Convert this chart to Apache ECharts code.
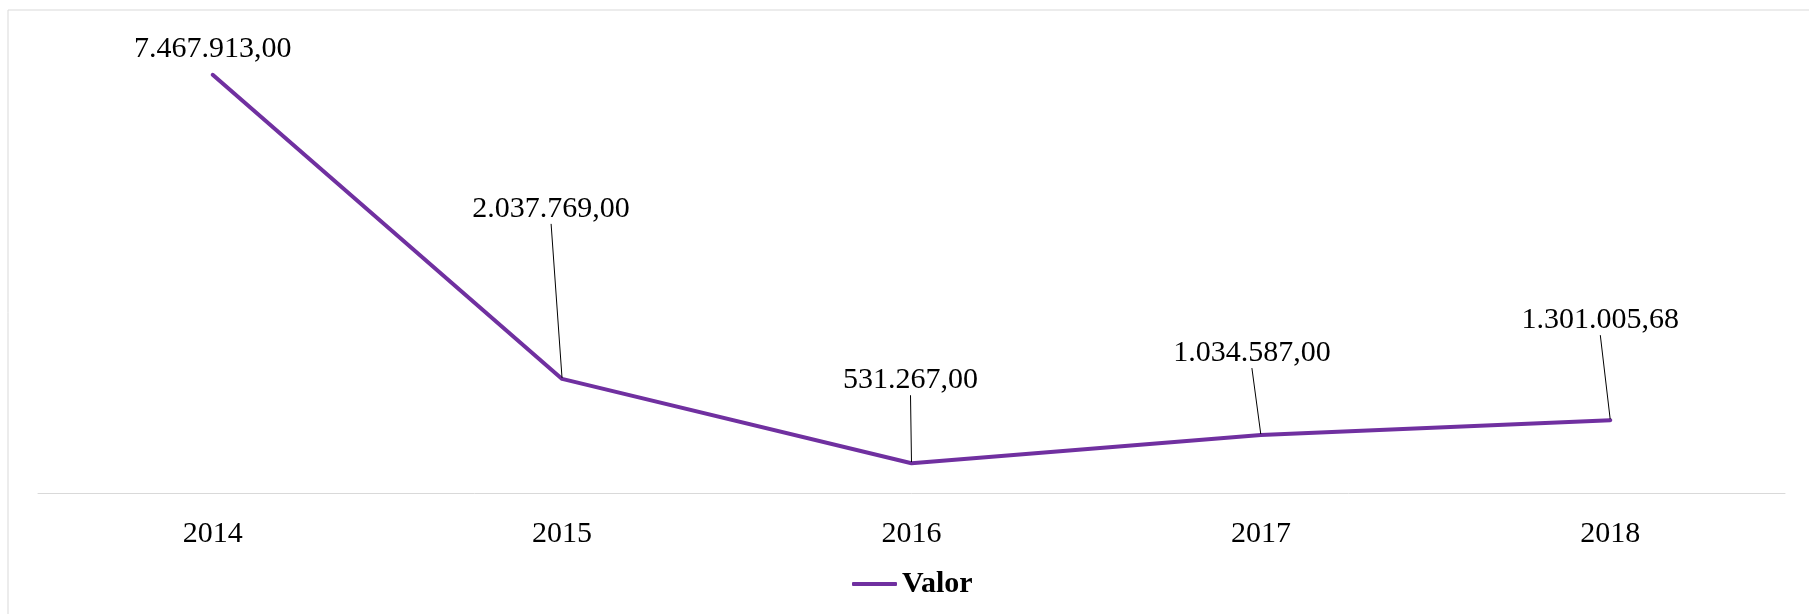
<!DOCTYPE html>
<html>
<head>
<meta charset="utf-8">
<script src="https://cdn.jsdelivr.net/npm/echarts@6/dist/echarts.min.js"></script>
<style>
  html, body { margin: 0; padding: 0; background: #fff; }
  #lineGraph { width: 1809px; height: 614px; }
</style>
</head>
<body>
<div id="lineGraph"></div>
<script>
// dados do gráfico
var anos = ['2014', '2015', '2016', '2017', '2018'];
var valores = [7467913, 2037769, 531267, 1034587, 1301005.68];
var nomeSerie = 'Valor';

// deslocamento dos rótulos (em px) para cada ponto
var rotuloDx = [0, -11, -1, -9, -10];
var rotuloDy = [-5, -149, -62, -61, -79];

function formatoBR(v) {
	var partes = v.toFixed(2).split('.');
	var inteiro = partes[0].replace(/\B(?=(\d{3})+(?!\d))/g, '.');
	return inteiro + ',' + partes[1];
}

var serieDados = [];
for (var i = 0; i < valores.length; i++) {
	if (i == 0) {
		serieDados.push({ value: valores[i], labelLine: { show: false } });
	} else {
		serieDados.push(valores[i]);
	}
}

var fonte = 'Liberation Serif, Times New Roman, serif';
var myChart = echarts.init(document.getElementById('lineGraph'));
var option = {
	animation: false,
	backgroundColor: '#fff',
	graphic: [{
		type: 'rect',
		silent: true,
		shape: { x: 8, y: 10, width: 2000, height: 800 },
		style: { fill: 'none', stroke: '#d9d9d9', lineWidth: 1 }
	}],
	grid: {
		left: 38,
		right: 24,
		top: 45,
		bottom: 121,
		containLabel: false
	},
	legend: {
		data: [nomeSerie],
		left: 847,
		top: 564,
		icon: 'roundRect',
		itemWidth: 45,
		itemHeight: 4,
		textStyle: {
			fontFamily: fonte,
			fontSize: 30,
			fontWeight: 'bold',
			color: '#000'
		}
	},
	xAxis: {
		type: 'category',
		boundaryGap: true,
		data: anos,
		axisLine: { show: true, lineStyle: { color: '#d9d9d9', width: 1 } },
		axisTick: { show: false },
		axisLabel: {
			margin: 26,
			fontFamily: fonte,
			fontSize: 30,
			color: '#000'
		},
		splitLine: { show: false }
	},
	yAxis: {
		type: 'value',
		min: 0,
		max: 8000000,
		show: false,
		splitLine: { show: false }
	},
	series: [{
		name: nomeSerie,
		type: 'line',
		data: serieDados,
		symbol: 'circle',
		symbolSize: 2,
		showSymbol: true,
		itemStyle: { color: '#7030A0' },
		lineStyle: { color: '#7030A0', width: 4, cap: 'round', join: 'round' },
		label: {
			show: true,
			position: 'top',
			fontFamily: fonte,
			fontSize: 30,
			color: '#000',
			formatter: function (p) {
				return formatoBR(p.value);
			}
		},
		labelLine: {
			show: true,
			lineStyle: { color: '#000', width: 1 }
		},
		labelLayout: function (params) {
			return {
				dx: rotuloDx[params.dataIndex],
				dy: rotuloDy[params.dataIndex]
			};
		}
	}]
};

if (option && typeof option === "object") {
	myChart.setOption(option, true);
}
</script>
</body>
</html>
